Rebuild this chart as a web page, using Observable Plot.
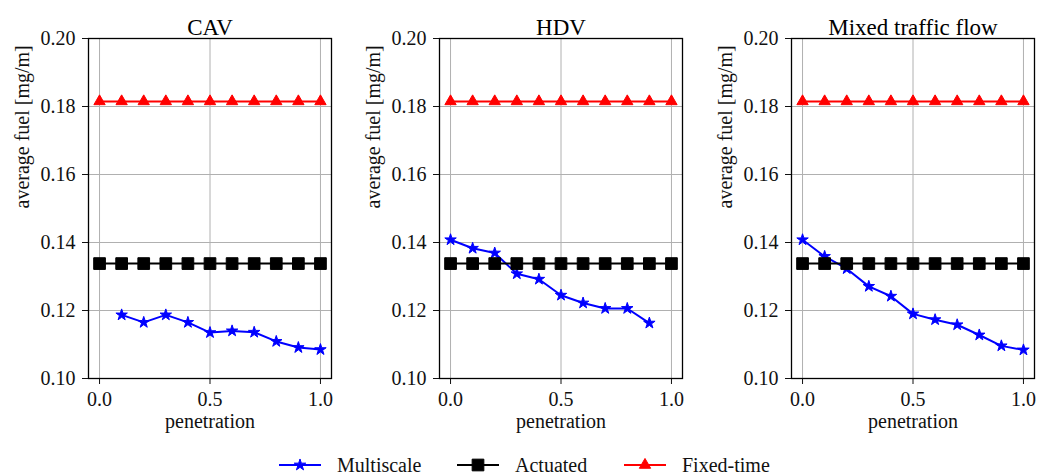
<!DOCTYPE html>
<html>
<head>
<meta charset="utf-8">
<script src="https://cdn.jsdelivr.net/npm/d3@7"></script>
<script src="https://cdn.jsdelivr.net/npm/@observablehq/plot@0.6"></script>
<style>
  html, body { margin: 0; padding: 0; background: #fff; overflow: hidden; }
  #figure { position: relative; width: 1037px; height: 476px; font-family: "Liberation Serif", "DejaVu Serif", serif; }
  #figure svg text { font-family: "Liberation Serif", "DejaVu Serif", serif; }
  .panel { position: absolute; top: 0; }
  .legend-item { position: absolute; top: 452px; height: 26px; display: flex; align-items: center; font-size: 20px; color: #111; }
  .legend-item svg { margin-right: 16px; }
</style>
</head>
<body>
<div id="figure"></div>
<script>
// Penetration rate of connected vehicles (x axis)
const penetration = [0.0, 0.1, 0.2, 0.3, 0.4, 0.5, 0.6, 0.7, 0.8, 0.9, 1.0];

// Panel titles
const panelTitles = ["CAV", "HDV", "Mixed traffic flow"];

// Average fuel [mg/m] of the multiscale controller, one list per vehicle group
const cavMultiscale   = [null, 0.1187, 0.1165, 0.1187, 0.1165, 0.1135, 0.1140, 0.1136, 0.1109, 0.1091, 0.1085];
const hdvMultiscale   = [0.1408, 0.1383, 0.1369, 0.1308, 0.1292, 0.1245, 0.1222, 0.1206, 0.1206, 0.1163, null];
const mixedMultiscale = [0.1408, 0.1359, 0.1323, 0.1271, 0.1242, 0.1190, 0.1173, 0.1158, 0.1128, 0.1096, 0.1084];

// Baselines (independent of penetration)
const actuatedFuel  = [0.1338, 0.1338, 0.1338, 0.1338, 0.1338, 0.1338, 0.1338, 0.1338, 0.1338, 0.1338, 0.1338];
const fixedTimeFuel = [0.1815, 0.1815, 0.1815, 0.1815, 0.1815, 0.1815, 0.1815, 0.1815, 0.1815, 0.1815, 0.1815];

// Axis ticks
const xTicks = [0.0, 0.5, 1.0];
const yTicks = [0.10, 0.12, 0.14, 0.16, 0.18, 0.20];

// Series names and styling
const seriesNames = ["Multiscale", "Actuated", "Fixed-time"];
const seriesColors = ["#0000ff", "#000000", "#ff0000"];
const seriesSymbols = ["star", "square", "triangle"];
const seriesRadius = [3.6, 6.6, 4.2];

const panelSeries = [cavMultiscale, hdvMultiscale, mixedMultiscale];
const panelLeft = [0, 351, 703];
const panelWidth = [345, 345, 334];
const panelMarginRight = [14, 14, 3];

const serif = "Liberation Serif, DejaVu Serif, serif";
const figure = document.getElementById("figure");

function toRows(values) {
  return penetration
    .map((p, i) => ({p, v: values[i]}))
    .filter(d => d.v != null);
}

function seriesMarks(rows, k) {
  return [
    Plot.line(rows, {x: "p", y: "v", stroke: seriesColors[k], strokeWidth: 2}),
    Plot.dot(rows, {x: "p", y: "v", symbol: () => seriesSymbols[k], r: seriesRadius[k],
      fill: seriesColors[k], stroke: seriesColors[k], strokeWidth: 1})
  ];
}

panelTitles.forEach((title, i) => {
  const chart = Plot.plot({
    width: panelWidth[i],
    height: 440,
    marginLeft: 88,
    marginRight: panelMarginRight[i],
    marginTop: 38,
    marginBottom: 62,
    style: {fontFamily: serif, fontSize: "20px", color: "#111", background: "transparent"},
    x: {domain: [-0.05, 1.05]},
    y: {domain: [0.10, 0.20]},
    marks: [
      Plot.gridX(xTicks, {stroke: "#b0b0b0", strokeOpacity: 1, strokeWidth: 1}),
      Plot.gridY(yTicks, {stroke: "#b0b0b0", strokeOpacity: 1, strokeWidth: 1}),
      Plot.axisX({ticks: xTicks, tickFormat: d3.format(".1f"), tickSize: 6, tickPadding: 7, label: null, fontSize: 20}),
      Plot.axisY({ticks: yTicks, tickFormat: d3.format(".2f"), tickSize: 6, tickPadding: 7, label: null, fontSize: 20}),
      ...seriesMarks(toRows(panelSeries[i]), 0),
      ...seriesMarks(toRows(actuatedFuel), 1),
      ...seriesMarks(toRows(fixedTimeFuel), 2),
      Plot.frame({stroke: "#000", strokeWidth: 1.3}),
      Plot.text([title], {frameAnchor: "top", dy: -20, fontSize: 23, fontFamily: serif, fill: "#000"}),
      Plot.text(["penetration"], {frameAnchor: "bottom", dy: 49, fontSize: 20, fontFamily: serif}),
      Plot.text(["average fuel [mg/m]"], {frameAnchor: "left", dx: -66, rotate: -90, fontSize: 20, fontFamily: serif})
    ]
  });
  chart.classList.add("panel");
  chart.style.left = panelLeft[i] + "px";
  figure.appendChild(chart);
});

// Legend below the panels
const legendLeft = [279, 457, 624];
seriesNames.forEach((name, k) => {
  const item = document.createElement("div");
  item.className = "legend-item";
  item.style.left = legendLeft[k] + "px";
  const sw = d3.create("svg").attr("width", 42).attr("height", 20);
  sw.append("line").attr("x1", 0).attr("x2", 42).attr("y1", 10).attr("y2", 10)
    .attr("stroke", seriesColors[k]).attr("stroke-width", 2);
  const sym = {star: d3.symbolStar, square: d3.symbolSquare, triangle: d3.symbolTriangle}[seriesSymbols[k]];
  sw.append("path").attr("transform", "translate(21,10)")
    .attr("d", d3.symbol(sym, Math.PI * seriesRadius[k] * seriesRadius[k])())
    .attr("fill", seriesColors[k]).attr("stroke", seriesColors[k]);
  item.appendChild(sw.node());
  const label = document.createElement("span");
  label.textContent = name;
  item.appendChild(label);
  figure.appendChild(item);
});
</script>
</body>
</html>
